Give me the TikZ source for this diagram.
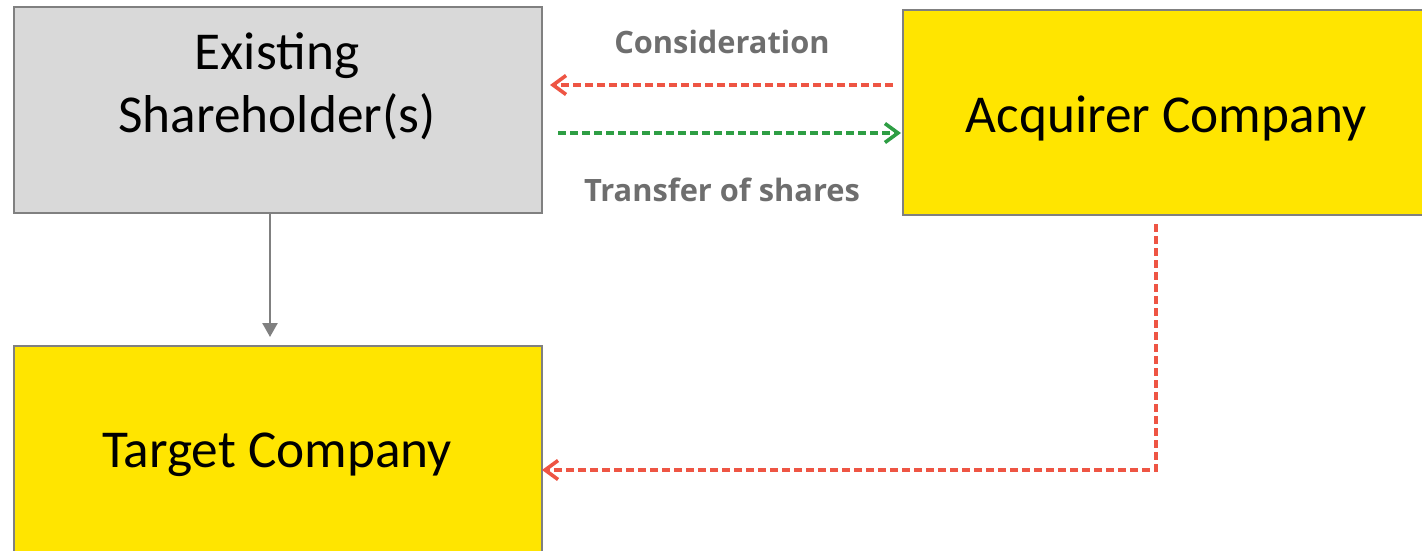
\documentclass[tikz,border=0pt]{standalone}
\usepackage{fontspec}
\setmainfont{Carlito}
\newfontfamily\labelfont{Open Sans}
\usetikzlibrary{arrows.meta,calc}
\definecolor{boxgray}{HTML}{D9D9D9}
\definecolor{edgegray}{HTML}{808080}
\definecolor{yel}{HTML}{FFE500}
\definecolor{cashred}{HTML}{EE5544}
\definecolor{sharegreen}{HTML}{2E9E44}
\definecolor{labelgray}{HTML}{6E6E6E}
\tikzset{
  box/.style={draw=edgegray, line width=2pt, anchor=north west, inner sep=0pt},
  boxtext/.style={font=\fontsize{53.3}{63}\selectfont, align=center, inner sep=0pt},
  flowlabel/.style={font=\labelfont\fontsize{30.8}{36}\selectfont\bfseries, text=labelgray, inner sep=0pt},
  dashflow/.style={line width=3.3pt, dash pattern=on 8pt off 4pt,
    -{Straight Barb[length=13pt,width=19pt,line width=3.6pt]}},
  plainflow/.style={draw=edgegray, line width=2.5pt,
    -{Triangle[length=14pt,width=15pt]}}
}
\begin{document}
\begin{tikzpicture}[x=1pt,y=-1pt]
\useasboundingbox (0,0) rectangle (1422,551);
\clip (0,0) rectangle (1422,551);
% boxes
\node[box, fill=boxgray, minimum width=528pt, minimum height=206pt] (sh) at (13,6) {};
\node[box, fill=yel, minimum width=540pt, minimum height=205pt] (acq) at (902,9) {};
\node[box, fill=yel, minimum width=528pt, minimum height=230pt] (tg) at (13,345) {};
% box texts
\node[boxtext] (shtext) at (277,86) {Existing\\Shareholder(s)};
\node[boxtext] (acqtext) at (1166,118) {Acquirer Company};
\node[boxtext] (tgtext) at (277,455) {Target Company};
% flow labels
\node[flowlabel] (cons) at (722,42) {Consideration};
\node[flowlabel] (xfer) at (722,190) {Transfer of shares};
% connectors
\coordinate (consfrom) at ($(acq.north west)+(-9pt,-76pt)$);
\coordinate (consto) at ($(sh.north east)+(7pt,-79pt)$);
\draw[dashflow, draw=cashred] (consfrom) -- (consto);
\coordinate (xferfrom) at ($(sh.north east)+(15pt,-127pt)$);
\coordinate (xferto) at ($(acq.north west)+(-1pt,-124pt)$);
\draw[dashflow, draw=sharegreen] (xferfrom) -- (xferto);
\draw[plainflow] (sh.south -| 270,0) -- ([yshift=8pt]tg.north -| 270,0);
\coordinate (paydown) at (1156,224);
\coordinate (paycorner) at (1156,470);
\draw[dashflow, draw=cashred] (paydown) -- (paycorner) -- ([xshift=-1pt]tg.east |- paycorner);
\end{tikzpicture}
\end{document}
